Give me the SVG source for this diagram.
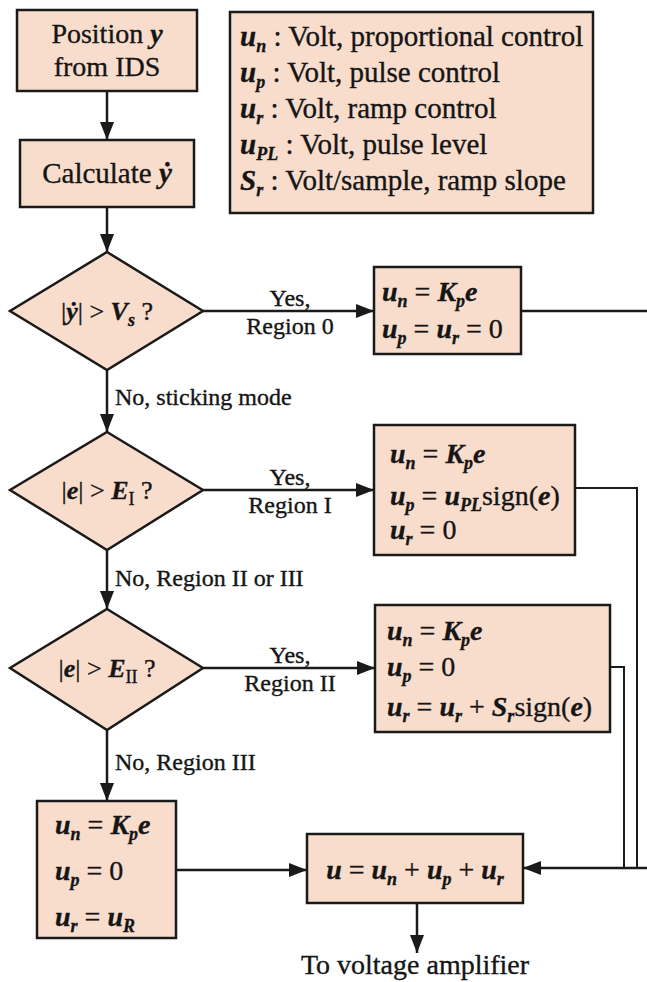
<svg xmlns="http://www.w3.org/2000/svg" width="647" height="982" viewBox="0 0 647 982">
<defs>
<style>
.bg{fill:#ffffff}
.box{fill:#f9ddcc;stroke:#1a1a1a;stroke-width:2.5}
.t{font-family:"Liberation Serif","Times New Roman",serif;font-size:28px;fill:#151515;stroke:#151515;stroke-width:0.35}
.lg{font-size:29px}
.d{font-size:26px}
.lbl{font-size:24px}
.i{font-style:italic;font-weight:bold}
.s{font-size:18px}
.c{text-anchor:middle}
.ln{stroke:#1a1a1a;stroke-width:2.5;fill:none}
.thin{stroke:#1a1a1a;stroke-width:2;fill:none}
</style>
<marker id="ah" markerWidth="18" markerHeight="14" refX="18" refY="7" orient="auto" markerUnits="userSpaceOnUse">
<path d="M0,0 L18,7 L0,14 z" fill="#1a1a1a"/>
</marker>
</defs>
<rect class="bg" x="0" y="0" width="647" height="982"/>

<g id="connectors">
<line class="ln" x1="107" y1="91" x2="107" y2="140" marker-end="url(#ah)"/>
<line class="ln" x1="107" y1="207" x2="107" y2="252" marker-end="url(#ah)"/>
<line class="ln" x1="203" y1="311" x2="374" y2="311" marker-end="url(#ah)"/>
<path class="ln" d="M521,311 H647"/>
<line class="ln" x1="107" y1="370" x2="107" y2="432" marker-end="url(#ah)"/>
<line class="ln" x1="203" y1="490" x2="374" y2="490" marker-end="url(#ah)"/>
<path class="thin" d="M575,488 H637 V868"/>
<line class="ln" x1="107" y1="550" x2="107" y2="609" marker-end="url(#ah)"/>
<line class="ln" x1="203" y1="668" x2="375" y2="668" marker-end="url(#ah)"/>
<path class="thin" d="M610,667 H624 V868"/>
<line class="ln" x1="107" y1="730" x2="107" y2="801" marker-end="url(#ah)"/>
<line class="ln" x1="176" y1="870" x2="307" y2="870" marker-end="url(#ah)"/>
<line class="ln" x1="647" y1="868" x2="523" y2="868" marker-end="url(#ah)"/>
<line class="ln" x1="417" y1="903" x2="417" y2="953" marker-end="url(#ah)"/>
<text class="t lbl c" x="290" y="306">Yes,</text>
<text class="t lbl c" x="290" y="334">Region 0</text>
<text class="t lbl" x="115" y="405">No, sticking mode</text>
<text class="t lbl c" x="290" y="485">Yes,</text>
<text class="t lbl c" x="290" y="513">Region I</text>
<text class="t lbl" x="115" y="586">No, Region II or III</text>
<text class="t lbl c" x="290" y="663">Yes,</text>
<text class="t lbl c" x="290" y="691">Region II</text>
<text class="t lbl" x="115" y="770">No, Region III</text>
<text class="t c" x="415" y="974">To voltage amplifier</text>
</g>

<g id="position">
<rect class="box" x="17" y="10" width="180" height="81"/>
<text class="t c" x="107" y="43">Position <tspan class="i">y</tspan></text>
<text class="t c" x="107" y="76">from IDS</text>
</g>

<g id="calculate">
<rect class="box" x="20" y="140" width="174" height="67"/>
<text class="t c" x="107" y="183" style="font-size:29px">Calculate <tspan class="i">ẏ</tspan></text>
</g>

<g id="legend">
<rect class="box" x="230" y="12" width="363" height="201"/>
<text class="t lg" x="240" y="46"><tspan class="i">u</tspan><tspan class="i s" dy="6">n</tspan><tspan dy="-6"> : Volt, proportional control</tspan></text>
<text class="t lg" x="240" y="82"><tspan class="i">u</tspan><tspan class="i s" dy="6">p</tspan><tspan dy="-6"> : Volt, pulse control</tspan></text>
<text class="t lg" x="240" y="118"><tspan class="i">u</tspan><tspan class="i s" dy="6">r</tspan><tspan dy="-6"> : Volt, ramp control</tspan></text>
<text class="t lg" x="240" y="154"><tspan class="i">u</tspan><tspan class="i s" dy="6">PL</tspan><tspan dy="-6"> : Volt, pulse level</tspan></text>
<text class="t lg" x="240" y="190"><tspan class="i">S</tspan><tspan class="i s" dy="6">r</tspan><tspan dy="-6"> : Volt/sample, ramp slope</tspan></text>
</g>

<g id="decision0">
<polygon class="box" points="107,252 203,311 107,370 10,311"/>
<text class="t d c" x="107" y="320">|<tspan class="i">ẏ</tspan>| &gt; <tspan class="i">V</tspan><tspan class="i s" dy="6">s</tspan><tspan dy="-6"> ?</tspan></text>
</g>

<g id="region0">
<rect class="box" x="374" y="267" width="147" height="87"/>
<text class="t" x="382" y="301"><tspan class="i">u</tspan><tspan class="i s" dy="6">n</tspan><tspan dy="-6"> = </tspan><tspan class="i">K</tspan><tspan class="i s" dy="6">p</tspan><tspan class="i" dy="-6">e</tspan></text>
<text class="t" x="382" y="338"><tspan class="i">u</tspan><tspan class="i s" dy="6">p</tspan><tspan dy="-6"> = </tspan><tspan class="i">u</tspan><tspan class="i s" dy="6">r</tspan><tspan dy="-6"> = 0</tspan></text>
</g>

<g id="decision1">
<polygon class="box" points="107,432 203,490 107,550 10,490"/>
<text class="t d c" x="107" y="499">|<tspan class="i">e</tspan>| &gt; <tspan class="i">E</tspan><tspan class="s" dy="6">I</tspan><tspan dy="-6"> ?</tspan></text>
</g>

<g id="region1">
<rect class="box" x="374" y="425" width="201" height="130"/>
<text class="t" x="390" y="463"><tspan class="i">u</tspan><tspan class="i s" dy="6">n</tspan><tspan dy="-6"> = </tspan><tspan class="i">K</tspan><tspan class="i s" dy="6">p</tspan><tspan class="i" dy="-6">e</tspan></text>
<text class="t" x="390" y="505"><tspan class="i">u</tspan><tspan class="i s" dy="6">p</tspan><tspan dy="-6"> = </tspan><tspan class="i">u</tspan><tspan class="i s" dy="6">PL</tspan><tspan dy="-6">sign(</tspan><tspan class="i">e</tspan><tspan>)</tspan></text>
<text class="t" x="390" y="539"><tspan class="i">u</tspan><tspan class="i s" dy="6">r</tspan><tspan dy="-6"> = 0</tspan></text>
</g>

<g id="decision2">
<polygon class="box" points="107,609 203,668 107,730 10,668"/>
<text class="t d c" x="107" y="677">|<tspan class="i">e</tspan>| &gt; <tspan class="i">E</tspan><tspan class="s" dy="6">II</tspan><tspan dy="-6"> ?</tspan></text>
</g>

<g id="region2">
<rect class="box" x="375" y="605" width="235" height="127"/>
<text class="t" x="387" y="640"><tspan class="i">u</tspan><tspan class="i s" dy="6">n</tspan><tspan dy="-6"> = </tspan><tspan class="i">K</tspan><tspan class="i s" dy="6">p</tspan><tspan class="i" dy="-6">e</tspan></text>
<text class="t" x="387" y="676"><tspan class="i">u</tspan><tspan class="i s" dy="6">p</tspan><tspan dy="-6"> = 0</tspan></text>
<text class="t" x="387" y="716"><tspan class="i">u</tspan><tspan class="i s" dy="6">r</tspan><tspan dy="-6"> = </tspan><tspan class="i">u</tspan><tspan class="i s" dy="6">r</tspan><tspan dy="-6"> + </tspan><tspan class="i">S</tspan><tspan class="i s" dy="6">r</tspan><tspan dy="-6">sign(</tspan><tspan class="i">e</tspan><tspan>)</tspan></text>
</g>

<g id="region3">
<rect class="box" x="37" y="801" width="139" height="137"/>
<text class="t" x="55" y="834"><tspan class="i">u</tspan><tspan class="i s" dy="6">n</tspan><tspan dy="-6"> = </tspan><tspan class="i">K</tspan><tspan class="i s" dy="6">p</tspan><tspan class="i" dy="-6">e</tspan></text>
<text class="t" x="55" y="880"><tspan class="i">u</tspan><tspan class="i s" dy="6">p</tspan><tspan dy="-6"> = 0</tspan></text>
<text class="t" x="55" y="926"><tspan class="i">u</tspan><tspan class="i s" dy="6">r</tspan><tspan dy="-6"> = </tspan><tspan class="i">u</tspan><tspan class="i s" dy="6">R</tspan></text>
</g>

<g id="sum">
<rect class="box" x="307" y="834" width="216" height="69"/>
<text class="t c" x="415" y="879"><tspan class="i">u</tspan> = <tspan class="i">u</tspan><tspan class="i s" dy="6">n</tspan><tspan dy="-6"> + </tspan><tspan class="i">u</tspan><tspan class="i s" dy="6">p</tspan><tspan dy="-6"> + </tspan><tspan class="i">u</tspan><tspan class="i s" dy="6">r</tspan></text>
</g>
</svg>
